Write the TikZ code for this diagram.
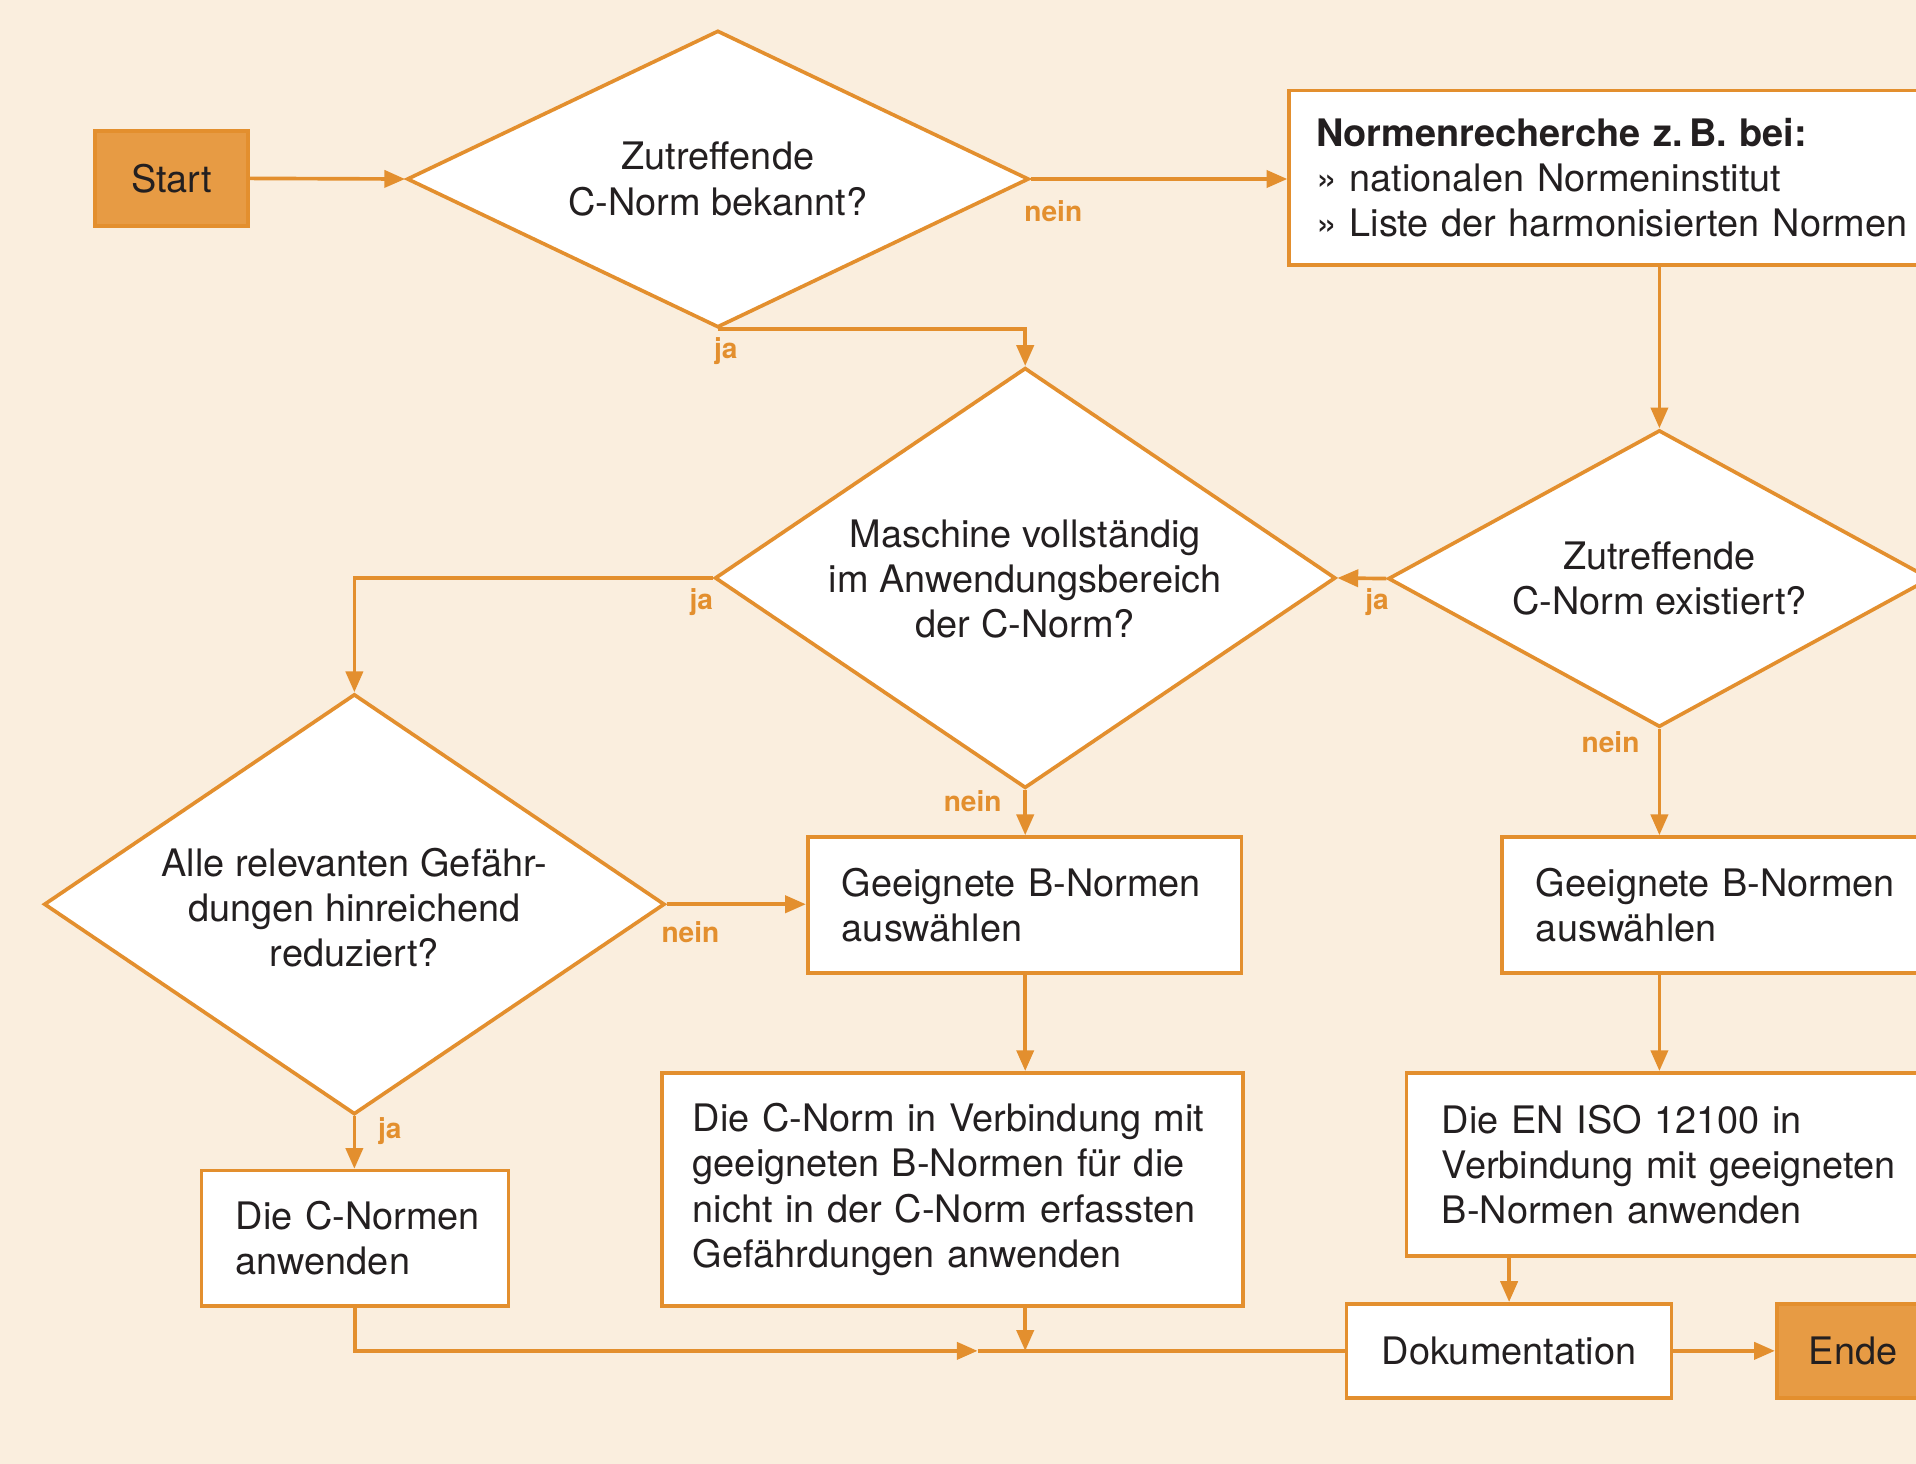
\documentclass[tikz,border=0pt]{standalone}
\usepackage{fontspec}
\setmainfont{TeX Gyre Heros}
\usetikzlibrary{arrows.meta,shapes.geometric}
\definecolor{bg}{HTML}{FAEEDE}
\definecolor{org}{HTML}{E38F2E}
\definecolor{orgfill}{HTML}{E79B44}
\definecolor{txt}{HTML}{231F20}
\begin{document}
\begin{tikzpicture}[x=1pt,y=-1pt,
  base/.style={draw=org, line width=3pt, text=txt, font=\fontsize{31}{37}\selectfont},
  box/.style={base, rectangle, fill=white, align=left, inner sep=0pt},
  term/.style={base, rectangle, fill=orgfill, inner sep=0pt},
  dia/.style={base, diamond, fill=white, inner sep=0pt},
  qtext/.style={text=txt, font=\fontsize{31}{37}\selectfont, align=center, inner sep=0pt},
  lbl/.style={text=org, font=\fontsize{23}{27}\selectfont\bfseries, inner sep=0pt},
  con/.style={draw=org, line width=3pt},
  arr/.style={con, -{Triangle[length=17pt,width=14pt]}},
]
\useasboundingbox (0,0) rectangle (1568,1198);
\fill[bg] (0,0) rectangle (1568,1198);
\clip (0,0) rectangle (1568,1198);

% terminals
\node[term, minimum width=125, minimum height=78] (start) at (140.5,146) {Start};
\node[term, minimum width=125, minimum height=77] (ende) at (1516.5,1105.5) {Ende};

% decisions
\node[dia, minimum width=509, minimum height=243] (d1) at (587.5,146.5) {};
\node[qtext] (d1t) at (d1.center) {Zutreffende\\C-Norm bekannt?};
\node[dia, minimum width=508, minimum height=344] (d2) at (839,473) {};
\node[qtext] (d2t) at (839,474) {Maschine vollständig\\im Anwendungsbereich\\der C-Norm?};
\node[dia, minimum width=444, minimum height=243] (d3) at (1358,473.5) {};
\node[qtext] (d3t) at (1358,473.5) {Zutreffende\\C-Norm existiert?};
\node[dia, minimum width=508, minimum height=344] (d4) at (290,740) {};
\node[qtext] (d4t) at (290,743) {Alle relevanten Gefähr-\\dungen hinreichend\\reduziert?};

% boxes
\node[box, minimum width=525, minimum height=143, text width=481] (nb) at (1317.5,145.5)
  {\mbox{\textbf{Normenrecherche z.\,B. bei:}}\\\mbox{» nationalen Normeninstitut}\\\mbox{» Liste der harmonisierten Normen}};
\node[box, minimum width=355, minimum height=111, text width=299] (b1) at (838.5,740.5)
  {\mbox{Geeignete B-Normen}\\\mbox{auswählen}};
\node[box, minimum width=351, minimum height=111, text width=295] (b2) at (1404.5,740.5)
  {\mbox{Geeignete B-Normen}\\\mbox{auswählen}};
\node[box, minimum width=475, minimum height=191, text width=425] (b3) at (779.5,973.5)
  {\mbox{Die C-Norm in Verbindung mit}\\\mbox{geeigneten B-Normen für die}\\\mbox{nicht in der C-Norm erfassten}\\\mbox{Gefährdungen anwenden}};
\node[box, minimum width=429, minimum height=150, text width=371] (b4) at (1365.5,953)
  {\mbox{Die EN ISO 12100 in}\\\mbox{Verbindung mit geeigneten}\\\mbox{B-Normen anwenden}};
\node[box, minimum width=251, minimum height=111, text width=195] (b5) at (290.5,1013.5)
  {\mbox{Die C-Normen}\\\mbox{anwenden}};
\node[box, minimum width=266, minimum height=77, align=center] (doku) at (1235,1105.5)
  {Dokumentation};

\coordinate (m) at (800,1105.5);

% connectors
\draw[arr] (start.east) -- (d1.west);
\draw[arr] (d1.east) -- (d1.east -| nb.west);
\draw[arr] (d1.south) -| (d2.north);
\draw[arr] (nb.south -| d3.north) -- (d3.north);
\draw[arr] (d3.west) -- (d2.east);
\draw[arr] (d3.south) -- (d3.south |- b2.north);
\draw[arr] (d2.west) -| (d4.north);
\draw[arr] (d2.south) -- (d2.south |- b1.north);
\draw[arr] (d4.east) -- (d4.east -| b1.west);
\draw[arr] (b1.south -| d2.south) -- (b3.north -| d2.south);
\draw[arr] (b2.south -| d3.south) -- (b4.north -| d3.south);
\draw[arr] (b4.south -| doku.north) -- (doku.north);
\draw[arr] (d4.south) -- (d4.south |- b5.north);
\draw[arr] (b5.south) |- (m);
\draw[con] (m) -- (doku.west);
\draw[arr] (b3.south -| d2.south) -- (m -| d2.south);
\draw[arr] (doku.east) -- (ende.west);

% labels
\node[lbl] (l1) at (862,173) {nein};
\node[lbl] (l2) at (594,287) {ja};
\node[lbl] (l3) at (574,493) {ja};
\node[lbl] (l4) at (796,656) {nein};
\node[lbl] (l5) at (1127,493) {ja};
\node[lbl] (l6) at (1318,607) {nein};
\node[lbl] (l7) at (565,763) {nein};
\node[lbl] (l8) at (319,926) {ja};
\end{tikzpicture}
\end{document}
